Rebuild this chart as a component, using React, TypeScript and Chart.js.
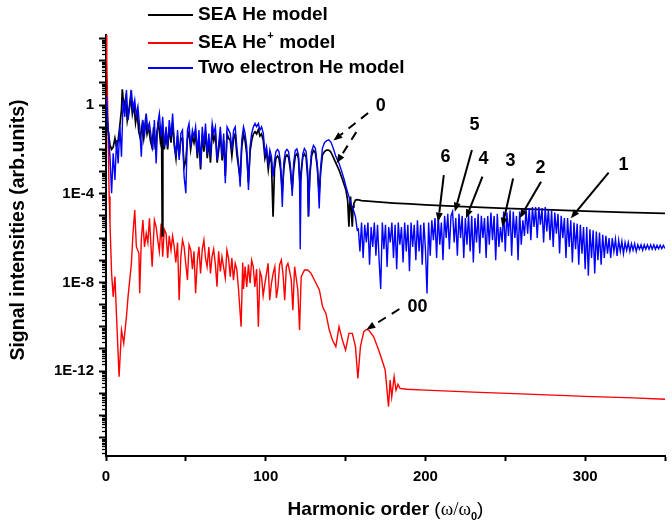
import { useEffect, useRef } from 'react';
import { Chart, registerables } from 'chart.js';

Chart.register(...registerables);

// [harmonic order, log10(signal intensity)]
const twoElectronHe: [number, number][] = [
  [0, 0.36], [0.4, 0.23], [1.4, -1.13], [2.5, -2.33], [3.5, -3.98], [4.5, -2.18], [5.6, -3.38], [6.6, -1.58], [7.6, -2.63], [8.7, -0.98],
  [9.7, -2.33], [10.7, 0.23], [11.8, -0.53], [12.8, 0.68], [13.8, -0.68], [14.9, -0.08], [15.9, 0.68], [16.9, -0.23], [18.0, 0.23], [19.0, -0.53],
  [20.0, -0.08], [21.1, -0.98], [22.1, -2.33], [23.1, -0.68], [24.2, -1.28], [25.2, -0.38], [26.2, -1.13], [27.2, -0.83], [28.3, -1.43], [29.3, -2.03],
  [30.3, -0.68], [31.4, -2.63], [32.4, -0.83], [33.4, -0.38], [34.5, -1.43], [35.5, -0.53], [36.5, -1.88], [37.6, -0.98], [38.6, -1.88], [39.6, -0.68],
  [40.7, -1.43], [41.7, -0.38], [42.7, -1.58], [43.8, -2.33], [44.8, -1.13], [45.8, -2.48], [46.9, -1.28], [47.9, -1.13], [48.9, -3.23], [50.0, -3.98],
  [51.0, -1.13], [52.0, -0.83], [53.0, -1.88], [54.1, -1.13], [55.1, -1.43], [56.1, -0.98], [57.2, -2.18], [58.2, -1.13], [59.2, -2.78], [60.3, -0.98],
  [61.3, -1.88], [62.3, -0.83], [63.4, -2.18], [64.4, -1.28], [65.4, -2.33], [66.5, -0.83], [67.5, -1.28], [68.5, -0.98], [69.6, -2.48], [70.6, -1.73],
  [71.6, -0.98], [72.7, -2.33], [73.7, -1.28], [74.7, -3.53], [75.8, -0.98], [76.8, -1.13], [77.8, -1.28], [78.8, -2.03], [79.9, -1.13], [80.9, -0.98],
  [81.9, -1.88], [83.0, -2.63], [84.0, -3.68], [85.0, -1.58], [86.1, -0.98], [87.1, -1.28], [88.1, -1.88], [89.2, -3.83], [90.2, -1.88], [91.2, -1.28],
  [92.3, -0.98], [93.3, -0.83], [94.3, -0.98], [95.4, -0.83], [96.4, -1.13], [97.4, -0.98], [98.5, -1.28], [99.5, -2.18], [100.5, -1.88], [101.6, -2.63],
  [102.6, -2.03], [103.6, -2.33], [104.6, -3.23], [105.5, -2.5], [106.4, -2.1], [107.4, -2.0], [108.3, -2.1], [109.3, -2.6], [110.4, -4.6], [111.3, -2.6],
  [112.3, -2.1], [113.3, -2.0], [114.3, -2.1], [115.4, -2.7], [116.6, -4.1], [117.5, -2.6], [118.5, -2.05], [119.5, -1.98], [120.5, -2.25], [121.2, -3.5],
  [121.6, -6.5], [122.1, -3.4], [123.2, -2.2], [124.2, -1.96], [125.3, -2.1], [126.3, -3.0], [126.9, -5.0], [127.6, -3.1], [128.7, -2.1], [129.9, -1.82],
  [131.1, -1.95], [132.3, -2.7], [133.5, -4.66], [134.4, -2.8], [135.5, -1.95], [136.8, -1.7], [138.2, -1.6], [139.5, -1.57], [140.9, -1.68], [142.3, -1.95],
  [143.8, -2.3], [145.9, -2.63], [147.6, -3.0], [149.2, -3.38], [150.7, -3.8], [152.1, -4.13], [153.2, -4.4], [154.2, -4.59], [155.2, -4.8], [156.2, -5.04],
  [157.3, -5.64],
];

// noisy plateau of the two-electron model, one value per harmonic order from 158 to 350
const plateauStartOrder = 158;
const twoElectronPlateau: number[] = [
  -5.6, -6.6, -5.3, -6.9, -5.4, -6.2, -5.3, -7.2, -5.5, -6.4,
  -5.3, -6.8, -5.4, -7.0, -8.3, -5.3, -6.5, -5.4, -7.3, -5.5,
  -6.2, -5.3, -6.9, -5.4, -7.4, -5.3, -6.3, -5.5, -7.1, -5.3,
  -6.6, -5.4, -7.5, -5.3, -6.4, -5.4, -7.0, -5.2, -6.6, -5.4,
  -7.2, -5.3, -6.5, -8.5, -5.3, -6.8, -5.2, -6.1, -5.1, -6.9,
  -4.95, -6.3, -5.3, -7.0, -5.0, -6.0, -4.9, -6.5, -5.0, -4.8,
  -6.2, -5.1, -6.8, -4.9, -6.0, -5.0, -6.9, -5.1, -6.3, -4.95,
  -6.6, -5.0, -7.1, -5.1, -6.2, -4.9, -6.7, -5.0, -6.0, -5.1,
  -6.9, -5.0, -6.3, -4.85, -6.1, -5.0, -7.0, -4.9, -6.4, -5.5,
  -6.2, -4.8, -6.6, -4.85, -5.9, -4.75, -6.8, -4.8, -6.0, -5.0,
  -7.0, -4.8, -6.3, -5.2, -5.9, -4.7, -5.8, -4.65, -6.1, -4.6,
  -5.5, -4.6, -6.0, -4.6, -5.4, -4.65, -6.2, -4.6, -5.7, -4.7,
  -6.1, -4.75, -6.4, -4.85, -5.8, -4.9, -6.7, -5.0, -6.0, -5.1,
  -6.9, -5.1, -6.4, -5.2, -7.1, -5.3, -6.5, -5.35, -7.2, -5.4,
  -6.7, -5.5, -7.4, -5.5, -7.7, -5.6, -6.9, -5.65, -7.6, -5.7,
  -7.0, -5.75, -7.2, -5.85, -6.9, -5.9, -6.7, -6.0, -6.9, -6.0,
  -6.6, -6.05, -6.8, -6.1, -6.6, -6.15, -6.7, -6.2, -6.55, -6.2,
  -6.6, -6.25, -6.55, -6.25, -6.6, -6.3, -6.5, -6.3, -6.55, -6.3,
  -6.5, -6.3, -6.5, -6.3, -6.5, -6.3, -6.5, -6.32, -6.48, -6.32,
  -6.48, -6.33, -6.47,
];

const seaHe: [number, number][] = [
  [0, -0.1], [0.4, -0.5], [1.4, -1.2], [2.5, -1.8], [3.5, -2.0], [4.5, -1.9], [5.6, -1.5], [6.6, -1.9], [7.6, -1.6], [8.7, -0.9],
  [9.7, -0.2], [10.2, 0.71], [11.2, -0.1], [12.3, 0.3], [13.3, -0.7], [14.4, -0.2], [15.4, 0.4], [16.5, -0.4], [17.5, 0.0], [18.5, -0.8],
  [19.5, -0.3], [20.5, -1.2], [21.5, -1.5], [22.6, -0.9], [23.6, -1.5], [24.7, -0.7], [25.7, -1.3], [26.7, -1.0], [27.8, -1.6], [28.8, -1.9],
  [29.8, -1.0], [30.9, -2.0], [31.9, -1.2], [32.9, -0.8], [34.0, -1.6], [34.8, -1.1], [35.2, -5.9], [35.6, -1.0], [36.5, -2.0], [37.6, -1.3],
  [38.6, -2.0], [39.6, -1.0], [40.7, -1.7], [41.7, -0.8], [42.7, -1.8], [43.8, -2.4], [44.8, -1.4], [45.8, -2.3], [46.9, -1.5], [47.9, -1.5],
  [48.9, -2.8], [50.0, -2.5], [51.0, -1.5], [52.0, -1.2], [53.0, -2.0], [54.1, -1.4], [55.1, -1.7], [56.1, -1.3], [57.2, -2.4], [58.2, -1.4],
  [59.2, -2.9], [60.3, -1.3], [61.3, -2.1], [62.3, -1.2], [63.4, -2.4], [64.4, -1.6], [65.4, -2.6], [66.5, -1.2], [67.5, -1.6], [68.5, -1.3],
  [69.6, -2.6], [70.6, -2.0], [71.6, -1.3], [72.7, -2.5], [73.7, -1.6], [74.7, -3.2], [75.8, -1.3], [76.8, -1.5], [77.8, -1.6], [78.8, -2.3],
  [79.9, -1.5], [80.9, -1.3], [81.9, -2.2], [83.0, -2.8], [84.0, -3.3], [85.0, -1.9], [86.1, -1.3], [87.1, -1.6], [88.1, -2.2], [89.2, -3.5],
  [90.2, -2.1], [91.2, -1.6], [92.3, -1.3], [93.3, -1.2], [94.3, -1.3], [95.4, -1.1], [96.4, -1.4], [97.4, -1.3], [98.5, -1.6], [99.5, -2.4],
  [100.5, -2.1], [101.6, -2.9], [102.6, -2.3], [103.6, -2.6], [104.6, -5.04], [105.5, -2.9], [106.4, -2.4], [107.4, -2.3], [108.3, -2.4], [109.3, -2.9],
  [110.4, -3.9], [111.3, -2.9], [112.3, -2.35], [113.3, -2.25], [114.3, -2.35], [115.4, -2.9], [116.6, -3.8], [117.5, -2.9], [118.5, -2.3], [119.5, -2.2],
  [120.5, -2.4], [121.5, -3.6], [122.3, -2.9], [123.2, -2.35], [124.2, -2.2], [125.3, -2.35], [126.3, -3.3], [126.7, -5.04], [127.6, -3.2], [128.7, -2.3],
  [129.9, -2.05], [131.1, -2.15], [132.3, -2.8], [133.5, -4.0], [134.4, -3.0], [135.5, -2.25], [136.8, -2.1], [138.2, -2.03], [139.3, -2.03], [140.6, -2.1],
  [142.0, -2.3], [143.5, -2.55], [145.9, -2.93], [148.0, -3.35], [150.2, -3.83], [151.3, -4.3], [152.1, -5.49], [152.6, -4.5], [153.1, -4.13], [153.7, -4.9],
  [154.2, -5.49], [154.7, -4.6], [155.2, -4.44], [156.2, -4.28], [157.5, -4.27], [160, -4.31], [170, -4.37], [180, -4.42], [190, -4.46], [200, -4.5],
  [220, -4.57], [250, -4.66], [275, -4.72], [300, -4.78], [325, -4.84], [350, -4.89],
];

const seaHePlus: [number, number][] = [
  [0.0, 3.6], [0.5, 2.0], [0.9, 0.5], [1.3, -1.2], [1.7, -2.9], [2.0, -4.13], [2.5, -5.34], [3.5, -7.59], [4.5, -8.65], [5.6, -7.74],
  [6.6, -9.55], [8.2, -12.25], [9.7, -10.15], [11.1, -10.75], [12.8, -9.55], [13.8, -8.65], [15.9, -7.14], [16.9, -5.79], [18.0, -4.74], [19.0, -6.39],
  [20.6, -6.69], [21.1, -8.49], [22.1, -6.09], [23.1, -5.19], [24.1, -6.4], [25.2, -5.79], [26.2, -6.2], [27.2, -5.11], [28.9, -7.29], [30.3, -5.19],
  [31.4, -5.5], [32.4, -6.09], [33.4, -6.6], [34.5, -5.34], [35.5, -6.84], [36.5, -5.6], [37.6, -5.79], [38.6, -6.9], [39.6, -5.9], [40.7, -6.54],
  [41.7, -5.9], [42.7, -6.39], [43.7, -7.1], [44.8, -6.2], [45.8, -8.8], [46.9, -6.8], [47.9, -6.09], [48.9, -6.4], [50.0, -7.2], [51.0, -7.89],
  [52.0, -6.3], [53.1, -6.54], [54.1, -7.4], [55.1, -6.6], [56.1, -8.49], [57.2, -7.0], [58.2, -6.39], [59.2, -7.6], [60.3, -6.5], [61.3, -6.09],
  [62.3, -6.9], [63.3, -7.29], [64.4, -6.4], [65.4, -7.6], [66.4, -6.84], [67.4, -6.5], [68.5, -7.2], [69.5, -8.19], [70.5, -6.6], [71.6, -7.5],
  [72.6, -6.84], [73.6, -7.3], [74.7, -7.8], [75.7, -6.54], [76.7, -6.9], [77.8, -7.74], [78.8, -6.9], [79.8, -7.9], [80.9, -7.14], [81.9, -7.4],
  [83.0, -8.34], [84.6, -10.0], [85.6, -7.1], [86.1, -8.3], [87.1, -7.29], [88.1, -8.2], [89.2, -7.2], [90.2, -8.04], [91.2, -7.0], [92.2, -7.29],
  [93.2, -8.2], [94.3, -7.4], [95.4, -10.0], [96.4, -7.5], [97.4, -7.74], [98.4, -8.6], [99.5, -8.04], [100.5, -7.6], [101.5, -7.14], [102.5, -8.8],
  [103.6, -8.04], [104.6, -7.6], [105.7, -7.29], [106.7, -8.7], [107.7, -8.19], [108.7, -7.2], [109.8, -6.99], [110.8, -7.6], [111.9, -8.8], [112.9, -7.3],
  [113.9, -7.14], [115.0, -7.5], [116.0, -7.89], [117.0, -9.25], [118.1, -7.29], [120.1, -8.34], [121.2, -10.15], [122.2, -7.74], [124.3, -7.44], [126.3, -7.44],
  [128.4, -7.59], [131.5, -8.04], [133.6, -8.34], [135.6, -9.1], [137.7, -9.4], [139.8, -10.15], [141.8, -10.6], [143.9, -10.9], [145.9, -10.0], [148.0, -10.6],
  [150.0, -11.05], [152.1, -10.3], [154.2, -10.3], [156.2, -10.9], [157.7, -12.33], [159.3, -10.9], [161.4, -10.22], [163.0, -10.12], [164.5, -10.15], [167.6, -10.45],
  [170.7, -11.05], [172.8, -11.5], [174.8, -11.95], [176.9, -13.6], [177.9, -12.4], [178.9, -13.16], [180.4, -12.25], [181.6, -12.86], [182.8, -12.6], [184.1, -12.78],
  [188.2, -12.82], [200, -12.86], [230, -12.95], [260, -13.03], [300, -13.14], [330, -13.21], [350, -13.27],
];

const seriesNames = ['SEA He model', 'SEA He', 'Two electron He model'];
const seriesColors = ['#000000', '#ff0000', '#0000ff'];

const xTickLabels = [0, 100, 200, 300];
const yLabelExponents = [0, -4, -8, -12];

// annotation labels: [text, harmonic order, log10 intensity]
const annotationLabels: [string, number, number][] = [
  ['0', 172.1, -0.05], ['00', 195.0, -9.13], ['1', 324.0, -2.71], ['2', 272.0, -2.83],
  ['3', 253.3, -2.53], ['4', 236.3, -2.45], ['5', 230.8, -0.9], ['6', 212.6, -2.33],
];
// arrows: [from order, from log10, to order, to log10, dashed]
const annotationArrows: [number, number, number, number, boolean][] = [
  [164.1, -0.36, 142.4, -1.6, true], [156.7, -1.22, 144.3, -2.62, true], [183.7, -9.2, 163.0, -10.13, true],
  [211.5, -3.16, 208.0, -5.26, false], [229.1, -2.03, 218.4, -4.81, false], [235.7, -3.23, 225.4, -5.11, false],
  [254.9, -3.31, 248.1, -5.49, false], [272.4, -3.46, 259.0, -5.11, false], [314.7, -3.05, 291.0, -5.11, false],
];

const FONT = '"Liberation Sans", Arial, sans-serif';

const toPoints = (arr: [number, number][]) => arr.map(([h, e]) => ({ x: h, y: Math.pow(10, e) }));

const overlayPlugin = {
  id: 'overlay',
  afterDraw(chart: any) {
    const ctx: CanvasRenderingContext2D = chart.ctx;
    const xs = chart.scales.x;
    const ys = chart.scales.y;
    const area = chart.chartArea;
    ctx.save();

    // minor log ticks
    ctx.strokeStyle = '#000';
    ctx.lineWidth = 1.3;
    for (let e = -17; e <= 4; e++) {
      for (let m = 2; m <= 9; m++) {
        const v = m * Math.pow(10, e);
        if (v < ys.min || v > ys.max) continue;
        const y = Math.round(ys.getPixelForValue(v)) + 0.5;
        ctx.beginPath();
        ctx.moveTo(area.left, y);
        ctx.lineTo(area.left - 4, y);
        ctx.stroke();
      }
    }

    // legend
    const legendY = [15, 43, 68];
    ctx.textBaseline = 'middle';
    ctx.textAlign = 'left';
    for (let i = 0; i < 3; i++) {
      ctx.strokeStyle = seriesColors[i];
      ctx.lineWidth = 2;
      ctx.beginPath();
      ctx.moveTo(148, legendY[i]);
      ctx.lineTo(193, legendY[i]);
      ctx.stroke();
      ctx.fillStyle = '#000';
      ctx.font = `bold 19px ${FONT}`;
      if (i === 1) {
        let x = 198;
        ctx.fillText(seriesNames[1], x, legendY[i]);
        x += ctx.measureText(seriesNames[1]).width;
        ctx.font = `bold 11px ${FONT}`;
        ctx.fillText('+', x + 0.5, legendY[i] - 7);
        x += ctx.measureText('+').width + 1;
        ctx.font = `bold 19px ${FONT}`;
        ctx.fillText(' model', x, legendY[i]);
      } else {
        ctx.fillText(seriesNames[i], 198, legendY[i]);
      }
    }

    // y title
    ctx.save();
    ctx.translate(19, 230);
    ctx.rotate(-Math.PI / 2);
    ctx.font = `bold 19.5px ${FONT}`;
    ctx.textAlign = 'center';
    ctx.textBaseline = 'middle';
    ctx.fillStyle = '#000';
    ctx.fillText('Signal intensities (arb.units)', 0, 0);
    ctx.restore();

    // x title
    {
      const parts: { t: string; f: string; dy: number }[] = [
        { t: 'Harmonic order ', f: `bold 19px ${FONT}`, dy: 0 },
        { t: '(', f: `19px ${FONT}`, dy: 0 },
        { t: 'ω/ω', f: `19px "Liberation Serif", serif`, dy: 0 },
        { t: '0', f: `bold 11px ${FONT}`, dy: 5 },
        { t: ')', f: `19px ${FONT}`, dy: 0 },
      ];
      let total = 0;
      const widths = parts.map((p) => {
        ctx.font = p.f;
        const w = ctx.measureText(p.t).width;
        total += w;
        return w;
      });
      let x = (area.left + area.right) / 2 - total / 2;
      ctx.textAlign = 'left';
      ctx.textBaseline = 'alphabetic';
      ctx.fillStyle = '#000';
      parts.forEach((p, i) => {
        ctx.font = p.f;
        ctx.fillText(p.t, x, 515 + p.dy);
        x += widths[i];
      });
    }

    // annotation arrows
    const px = (h: number) => xs.getPixelForValue(h);
    const py = (e: number) => ys.getPixelForValue(Math.pow(10, e));
    ctx.strokeStyle = '#000';
    ctx.fillStyle = '#000';
    ctx.lineWidth = 2;
    for (const [h0, e0, h1, e1, dashed] of annotationArrows) {
      const x0 = px(h0), y0 = py(e0), x1 = px(h1), y1 = py(e1);
      const ang = Math.atan2(y1 - y0, x1 - x0);
      const headLen = 9;
      const bx = x1 - headLen * Math.cos(ang);
      const by = y1 - headLen * Math.sin(ang);
      ctx.setLineDash(dashed ? [9, 7] : []);
      ctx.beginPath();
      ctx.moveTo(x0, y0);
      ctx.lineTo(bx, by);
      ctx.stroke();
      ctx.setLineDash([]);
      ctx.beginPath();
      ctx.moveTo(x1, y1);
      ctx.lineTo(bx + 3.5 * Math.sin(ang), by - 3.5 * Math.cos(ang));
      ctx.lineTo(bx - 3.5 * Math.sin(ang), by + 3.5 * Math.cos(ang));
      ctx.closePath();
      ctx.fill();
    }
    ctx.font = `bold 18px ${FONT}`;
    ctx.textAlign = 'center';
    ctx.textBaseline = 'middle';
    for (const [t, h, e] of annotationLabels) {
      ctx.fillText(t, px(h), py(e));
    }
    ctx.restore();
  },
};

export default function App() {
  const canvasRef = useRef<HTMLCanvasElement | null>(null);

  useEffect(() => {
    if (!canvasRef.current) return;
    const bluePoints = [
      ...toPoints(twoElectronHe),
      ...twoElectronPlateau.map((e, i) => ({ x: plateauStartOrder + i, y: Math.pow(10, e) })),
    ];
    const chart = new Chart(canvasRef.current, {
      type: 'line',
      data: {
        datasets: [
          { label: seriesNames[2], data: bluePoints, borderColor: seriesColors[2], borderWidth: 1.4, pointRadius: 0, tension: 0, order: 0 },
          { label: seriesNames[0], data: toPoints(seaHe), borderColor: seriesColors[0], borderWidth: 1.7, pointRadius: 0, tension: 0, order: 1 },
          { label: seriesNames[1], data: toPoints(seaHePlus), borderColor: seriesColors[1], borderWidth: 1.4, pointRadius: 0, tension: 0, order: 2 },
        ],
      },
      options: {
        responsive: false,
        animation: false,
        devicePixelRatio: 1,
        layout: { padding: { top: 35, right: 0, left: 0, bottom: 0 } },
        plugins: { legend: { display: false }, tooltip: { enabled: false }, title: { display: false } },
        scales: {
          x: {
            type: 'linear',
            min: 0,
            max: 350,
            afterBuildTicks: (scale: any) => {
              const t = [];
              for (let v = 0; v <= 350; v += 50) t.push({ value: v });
              scale.ticks = t;
            },
            afterFit: (scale: any) => { scale.height = 70; },
            ticks: {
              autoSkip: false,
              maxRotation: 0,
              padding: 7,
              color: '#000',
              font: { family: FONT, size: 15, weight: 'bold' },
              callback: (v: any) => (xTickLabels.includes(Number(v)) ? String(v) : ''),
            },
            grid: { drawOnChartArea: false, drawTicks: true, tickLength: 5, tickWidth: 2, tickColor: '#000' },
            border: { display: true, color: '#000', width: 2 },
          },
          y: {
            type: 'logarithmic',
            min: Math.pow(10, -15.83),
            max: Math.pow(10, 3.16),
            afterBuildTicks: (scale: any) => {
              const t = [];
              for (let e = -15; e <= 3; e++) t.push({ value: Math.pow(10, e) });
              scale.ticks = t;
            },
            afterFit: (scale: any) => { scale.width = 106; },
            ticks: {
              autoSkip: false,
              padding: 5,
              color: '#000',
              font: { family: FONT, size: 15, weight: 'bold' },
              callback: (v: any) => {
                const e = Math.round(Math.log10(Number(v)));
                if (!yLabelExponents.includes(e)) return '';
                return e === 0 ? '1' : `1E${e}`;
              },
            },
            grid: { drawOnChartArea: false, drawTicks: true, tickLength: 7, tickWidth: 2, tickColor: '#000' },
            border: { display: true, color: '#000', width: 2 },
          },
        },
      } as any,
      plugins: [overlayPlugin],
    });
    return () => chart.destroy();
  }, []);

  return (
    <div style={{ position: 'absolute', left: 0, top: 0, width: 672, height: 526, background: '#fff' }}>
      <canvas ref={canvasRef} width={672} height={526} style={{ display: 'block' }} />
    </div>
  );
}
